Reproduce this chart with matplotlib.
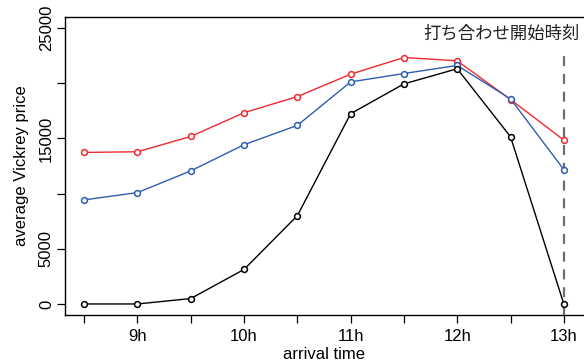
import numpy as np
import matplotlib.pyplot as plt

plt.rcParams["font.family"] = ["Liberation Sans", "Noto Sans CJK JP", "DejaVu Sans"]

# arrival times in hours, half-hour steps
hours = [8.5, 9, 9.5, 10, 10.5, 11, 11.5, 12, 12.5, 13]

price_red = [13730, 13790, 15180, 17330, 18790, 20820, 22330, 22030, 18520, 14850]
price_blue = [9430, 10090, 12060, 14430, 16180, 20120, 20880, 21610, 18580, 12180]
price_black = [0, 0, 490, 3130, 8000, 17240, 19940, 21310, 15150, 0]

meeting_start = 13
meeting_label = "打ち合わせ開始時刻"

y_ticks = [0, 5000, 10000, 15000, 20000, 25000]
y_labels = ["0", "5000", "", "15000", "", "25000"]
x_ticks = hours
x_labels = ["" if h % 1 else f"{int(h)}h" for h in hours]

fig = plt.figure(figsize=(5.84, 3.64), dpi=100)
ax = fig.add_axes([65 / 584, 49 / 364, 518 / 584, 298 / 364])

series = [
    (price_red, "#ee2a2e"),
    (price_blue, "#2f5db0"),
    (price_black, "black"),
]
for vals, col in series:
    ax.plot(hours, vals, color=col, linewidth=1.0, marker="o", markersize=4.2,
            markerfacecolor="white", markeredgecolor=col, markeredgewidth=1.1,
            zorder=3)

ax.vlines(meeting_start, -1000, 22800, colors="#6e6e6e", linestyles=(0, (4.5, 3.5)),
          linewidth=1.6, zorder=2)
ax.text(meeting_start + 0.15, 24500, meeting_label, ha="right", va="center",
        fontsize=12.5, family=["Noto Sans CJK JP", "DejaVu Sans"], color="#222222")

ax.set_xlim(8.32, 13.18)
ax.set_ylim(-1000, 26000)

ax.set_xticks(x_ticks)
ax.set_xticklabels(x_labels, fontsize=12)
ax.set_yticks(y_ticks)
ax.set_yticklabels(y_labels, fontsize=12, rotation=90, va="center")
ax.tick_params(axis="both", direction="out", length=6, width=0.9, pad=4)
ax.tick_params(axis="y", pad=2)

ax.set_xlabel("arrival time", fontsize=12, labelpad=2)
ax.set_ylabel("average Vickrey price", fontsize=12, labelpad=7)

ax.spines["right"].set_visible(False)
for s in ["left", "bottom", "top"]:
    ax.spines[s].set_linewidth(1.0)

fig.savefig("out.png", dpi=100)
